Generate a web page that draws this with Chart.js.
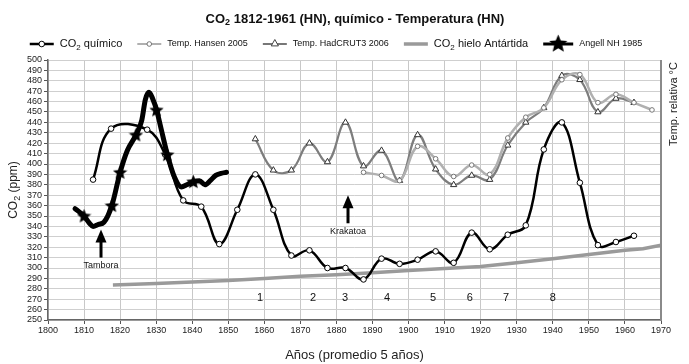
<!DOCTYPE html>
<html><head><meta charset="utf-8">
<script src="https://cdn.jsdelivr.net/npm/chart.js@4.4.1/dist/chart.umd.min.js"></script>
<style>html,body{margin:0;padding:0;background:#fff;}#wrap{width:689px;height:364px;}</style>
</head><body><div id="wrap"><canvas id="c" width="689" height="364"></canvas></div>
<script>
// ---------- DATA ----------
const TITLE = 'CO₂ 1812-1961 (HN), químico - Temperatura (HN)';
const X_TITLE = 'Años (promedio 5 años)';
const Y_TITLE = 'CO₂ (ppm)';
const Y2_TITLE = 'Temp. relativa °C';
const SERIES_NAMES = ['CO₂ químico', 'Temp. Hansen 2005', 'Temp. HadCRUT3 2006', 'CO₂ hielo Antártida', 'Angell NH 1985'];
const X_TICKS = [1800,1810,1820,1830,1840,1850,1860,1870,1880,1890,1900,1910,1920,1930,1940,1950,1960,1970];
const Y_TICKS = [250,260,270,280,290,300,310,320,330,340,350,360,370,380,390,400,410,420,430,440,450,460,470,480,490,500];

const CO2_CHEM_YEARS = [1812.5,1817.5,1827.5,1832.5,1837.5,1842.5,1847.5,1852.5,1857.5,1862.5,1867.5,1872.5,1877.5,1882.5,1887.5,1892.5,1897.5,1902.5,1907.5,1912.5,1917.5,1922.5,1927.5,1932.5,1937.5,1942.5,1947.5,1952.5,1957.5,1962.5];
const CO2_CHEM = [385,434,433,409,365,359,323,356,390,356,312,317,300,300,289,309,304,308,316,305,334,318,332,341,414,440,382,322,325,331];

const HANSEN_YEARS = [1887.5,1892.5,1897.5,1902.5,1907.5,1912.5,1917.5,1922.5,1927.5,1932.5,1937.5,1942.5,1947.5,1952.5,1957.5,1962.5,1967.5];
const HANSEN = [392,389,384,417,405,388,399,390,425,445,454,481,486,459,467,459,452];

const HADCRUT_YEARS = [1857.5,1862.5,1867.5,1872.5,1877.5,1882.5,1887.5,1892.5,1897.5,1902.5,1907.5,1912.5,1917.5,1922.5,1927.5,1932.5,1937.5,1942.5,1947.5,1952.5,1957.5,1962.5];
const HADCRUT = [424,394,394,420,402,440,398,413,384,428,395,380,389,385,418,440,454,485,481,450,463,459];

const ICE_YEARS = [1818,1830,1840,1850,1860,1870,1880,1890,1900,1910,1920,1930,1940,1950,1960,1965,1970];
const ICE = [283.7,285,286.5,288,290,292,293.5,295.5,297.5,299.5,301.5,305,309,313,317,318.5,322];

const ANGELL_YEARS = [1807.5,1809,1810,1811.5,1812.5,1814,1815.5,1817.7,1820,1822,1824.4,1826,1827,1828,1829,1830.1,1831.5,1833.1,1835,1837,1838.5,1840.3,1842,1843.5,1845,1846.5,1848,1849.5];
const ANGELL = [357,353,350,343,340,342,344,360,392,413,428,442,462,469,463,452,432,409,388,378,380,383,384,380,384,389,391,392];
const ANGELL_STAR_YEARS = [1810,1817.7,1820,1824.4,1830.1,1833.1,1840.3];

const EVENT_NUMBERS = ['1','2','3','4','5','6','7','8'];
const EVENT_YEARS = [1858.8,1873.5,1882.4,1894,1906.8,1917,1927,1940];
const EVENT_LEVEL = 271;

const VOLCANO_NAMES = ['Tambora','Krakatoa'];
const VOLCANO_YEARS = [1814.7,1883.2];
const VOLCANO_TIP = [337,370];
const VOLCANO_BASE = [310,343];
const VOLCANO_LABEL = [302,335];

// ---------- helpers ----------
const FF = '"Liberation Sans", Arial, Helvetica, sans-serif';
const pts = (xs, ys) => xs.map((x, i) => ({x, y: ys[i]}));

function makeStar(size){
  const c = document.createElement('canvas'); c.width = c.height = size;
  const g = c.getContext('2d'); g.fillStyle = '#000'; g.beginPath();
  const R = size/2, r = R*0.45;
  for (let i = 0; i < 10; i++){
    const a = -Math.PI/2 + i*Math.PI/5, rr = i % 2 ? r : R;
    g.lineTo(R + rr*Math.cos(a), R + 0.5 + rr*Math.sin(a));
  }
  g.closePath(); g.fill(); return c;
}
const STAR = makeStar(15);
const STAR_BIG = makeStar(19);

// draw text with "₂" rendered as a subscript "2"
function rich(ctx, text, x, y, size, weight, align){
  const parts = text.split('₂');
  const segs = [];
  parts.forEach((p, i) => { if (p) segs.push({t:p, sub:false}); if (i < parts.length-1) segs.push({t:'2', sub:true}); });
  const fN = `${weight} ${size}px ${FF}`, fS = `${weight} ${Math.round(size*0.72)}px ${FF}`;
  let w = 0;
  segs.forEach(s => { ctx.font = s.sub ? fS : fN; s.w = ctx.measureText(s.t).width; w += s.w; });
  let cx = align === 'center' ? x - w/2 : (align === 'right' ? x - w : x);
  ctx.textBaseline = 'middle'; ctx.textAlign = 'left';
  segs.forEach(s => { ctx.font = s.sub ? fS : fN; ctx.fillText(s.t, cx, y + (s.sub ? size*0.3 : 0)); cx += s.w; });
  return w;
}
function richWidth(ctx, text, size, weight){
  const parts = text.split('₂'); let w = 0;
  ctx.font = `${weight} ${size}px ${FF}`;
  parts.forEach(p => w += ctx.measureText(p).width);
  ctx.font = `${weight} ${Math.round(size*0.72)}px ${FF}`;
  w += (parts.length-1)*ctx.measureText('2').width;
  return w;
}

function marker(ctx, type, x, y, r, stroke){
  ctx.save(); ctx.fillStyle = '#fff'; ctx.strokeStyle = stroke; ctx.lineWidth = 1;
  ctx.beginPath();
  if (type === 'circle') ctx.arc(x, y, r, 0, Math.PI*2);
  else { ctx.moveTo(x, y - r); ctx.lineTo(x + r*0.9, y + r*0.6); ctx.lineTo(x - r*0.9, y + r*0.6); ctx.closePath(); }
  ctx.fill(); ctx.stroke(); ctx.restore();
}

const decor = {
  id: 'decor',
  afterDraw(chart){
    const {ctx, chartArea: a, scales: {x, y}} = chart;
    ctx.save();
    // right frame line
    ctx.strokeStyle = '#8a8a8a'; ctx.lineWidth = 2;
    ctx.beginPath(); ctx.moveTo(a.right, a.top); ctx.lineTo(a.right, a.bottom + 1); ctx.stroke();
    ctx.fillStyle = '#111';
    // title
    rich(ctx, TITLE, 355, 19, 13, 'bold', 'center');
    // axis titles
    ctx.fillStyle = '#222';
    rich(ctx, X_TITLE, (a.left + a.right)/2, 355, 13, 'normal', 'center');
    ctx.save(); ctx.translate(14, (a.top + a.bottom)/2); ctx.rotate(-Math.PI/2);
    rich(ctx, Y_TITLE, 0, 0, 12, 'normal', 'center'); ctx.restore();
    ctx.save(); ctx.translate(674, 104); ctx.rotate(-Math.PI/2);
    rich(ctx, Y2_TITLE, 0, 0, 11, 'normal', 'center'); ctx.restore();
    // event numbers
    ctx.fillStyle = '#111';
    EVENT_NUMBERS.forEach((n, i) => rich(ctx, n, x.getPixelForValue(EVENT_YEARS[i]), y.getPixelForValue(EVENT_LEVEL), 11, 'normal', 'center'));
    // volcano arrows
    VOLCANO_NAMES.forEach((name, i) => {
      const px = x.getPixelForValue(VOLCANO_YEARS[i]);
      const tip = y.getPixelForValue(VOLCANO_TIP[i]), base = y.getPixelForValue(VOLCANO_BASE[i]);
      ctx.fillStyle = '#000';
      ctx.beginPath(); ctx.moveTo(px, tip); ctx.lineTo(px + 5.5, tip + 13); ctx.lineTo(px - 5.5, tip + 13); ctx.closePath(); ctx.fill();
      ctx.fillRect(px - 1.5, tip + 12, 3, base - tip - 12);
      ctx.fillStyle = '#111';
      rich(ctx, name, px, y.getPixelForValue(VOLCANO_LABEL[i]), 9, 'normal', 'center');
    });
    // legend
    const items = [
      {name: SERIES_NAMES[0], size: 11, draw: (sx, sy) => { ctx.strokeStyle = '#000'; ctx.lineWidth = 2.5; ctx.beginPath(); ctx.moveTo(sx, sy); ctx.lineTo(sx + 24, sy); ctx.stroke(); marker(ctx, 'circle', sx + 12, sy, 2.8, '#000'); }},
      {name: SERIES_NAMES[1], size: 9, draw: (sx, sy) => { ctx.strokeStyle = '#b0b0b0'; ctx.lineWidth = 2; ctx.beginPath(); ctx.moveTo(sx, sy); ctx.lineTo(sx + 24, sy); ctx.stroke(); marker(ctx, 'circle', sx + 12, sy, 2.3, '#777'); }},
      {name: SERIES_NAMES[2], size: 9, draw: (sx, sy) => { ctx.strokeStyle = '#777'; ctx.lineWidth = 2; ctx.beginPath(); ctx.moveTo(sx, sy); ctx.lineTo(sx + 24, sy); ctx.stroke(); marker(ctx, 'tri', sx + 12, sy - 0.5, 4, '#444'); }},
      {name: SERIES_NAMES[3], size: 11, draw: (sx, sy) => { ctx.strokeStyle = '#9a9a9a'; ctx.lineWidth = 3.5; ctx.beginPath(); ctx.moveTo(sx, sy); ctx.lineTo(sx + 24, sy); ctx.stroke(); }},
      {name: SERIES_NAMES[4], size: 9, draw: (sx, sy) => { ctx.strokeStyle = '#000'; ctx.lineWidth = 3; ctx.beginPath(); ctx.moveTo(sx, sy); ctx.lineTo(sx + 30, sy); ctx.stroke(); ctx.drawImage(STAR_BIG, sx + 15 - 9.5, sy - 10); }}
    ];
    const gapSym = 6, gapItem = 15;
    let total = 0;
    items.forEach((it, i) => { it.symW = i === 4 ? 30 : 24; it.tw = richWidth(ctx, it.name, it.size, 'normal'); total += it.symW + gapSym + it.tw + (i < 4 ? gapItem : 0); });
    let lx = 336 - total/2; const ly = 44;
    items.forEach(it => {
      it.draw(lx, ly); lx += it.symW + gapSym;
      ctx.fillStyle = '#111'; rich(ctx, it.name, lx, ly, it.size, 'normal', 'left'); lx += it.tw + gapItem;
    });
    ctx.restore();
  }
};

new Chart(document.getElementById('c'), {
  type: 'line',
  data: {
    datasets: [
      {label: SERIES_NAMES[0], data: pts(CO2_CHEM_YEARS, CO2_CHEM), borderColor: '#000', borderWidth: 2.5, tension: 0.4,
       pointStyle: 'circle', pointRadius: 2.8, pointBackgroundColor: '#fff', pointBorderColor: '#000', pointBorderWidth: 1, order: 1},
      {label: SERIES_NAMES[1], data: pts(HANSEN_YEARS, HANSEN), borderColor: '#b0b0b0', borderWidth: 2.5, tension: 0.4,
       pointStyle: 'circle', pointRadius: 2.3, pointBackgroundColor: '#fff', pointBorderColor: '#777', pointBorderWidth: 1, order: 2},
      {label: SERIES_NAMES[2], data: pts(HADCRUT_YEARS, HADCRUT), borderColor: '#7d7d7d', borderWidth: 2.2, tension: 0.4,
       pointStyle: 'triangle', pointRadius: 3.6, pointBackgroundColor: '#fff', pointBorderColor: '#333', pointBorderWidth: 1, order: 3},
      {label: SERIES_NAMES[3], data: pts(ICE_YEARS, ICE), borderColor: '#9a9a9a', borderWidth: 3.5, tension: 0,
       pointRadius: 0, order: 4},
      {label: SERIES_NAMES[4], data: pts(ANGELL_YEARS, ANGELL), borderColor: '#000', borderWidth: 5, tension: 0.4,
       cubicInterpolationMode: 'monotone', borderJoinStyle: 'round', borderCapStyle: 'round',
       pointStyle: STAR, pointRadius: c => (c.raw && ANGELL_STAR_YEARS.includes(c.raw.x)) ? 7 : 0, order: 0}
    ]
  },
  options: {
    responsive: false, animation: false, events: [],
    layout: {padding: {left: 0, right: 28, top: 60, bottom: 0}},
    plugins: {legend: {display: false}, title: {display: false}, tooltip: {enabled: false}},
    scales: {
      x: {type: 'linear', min: X_TICKS[0], max: X_TICKS[X_TICKS.length-1],
          afterFit: s => { s.height = 44; },
          afterBuildTicks: s => { s.ticks = X_TICKS.map(v => ({value: v})); },
          ticks: {autoSkip: false, maxRotation: 0, font: {family: FF, size: 9}, color: '#222', padding: 1, callback: v => String(v)},
          grid: {color: '#c8c8c8', lineWidth: 1, tickLength: 4, tickColor: '#555'},
          border: {color: '#666', width: 1.5}},
      y: {type: 'linear', min: Y_TICKS[0], max: Y_TICKS[Y_TICKS.length-1],
          afterFit: s => { s.width = 48; },
          afterBuildTicks: s => { s.ticks = Y_TICKS.map(v => ({value: v})); },
          ticks: {autoSkip: false, font: {family: FF, size: 9}, color: '#222', padding: 2, callback: v => String(v)},
          grid: {color: '#cfcfcf', lineWidth: 1, tickLength: 4, tickColor: '#555'},
          border: {color: '#666', width: 1.5}}
    }
  },
  plugins: [decor]
});
</script></body></html>
